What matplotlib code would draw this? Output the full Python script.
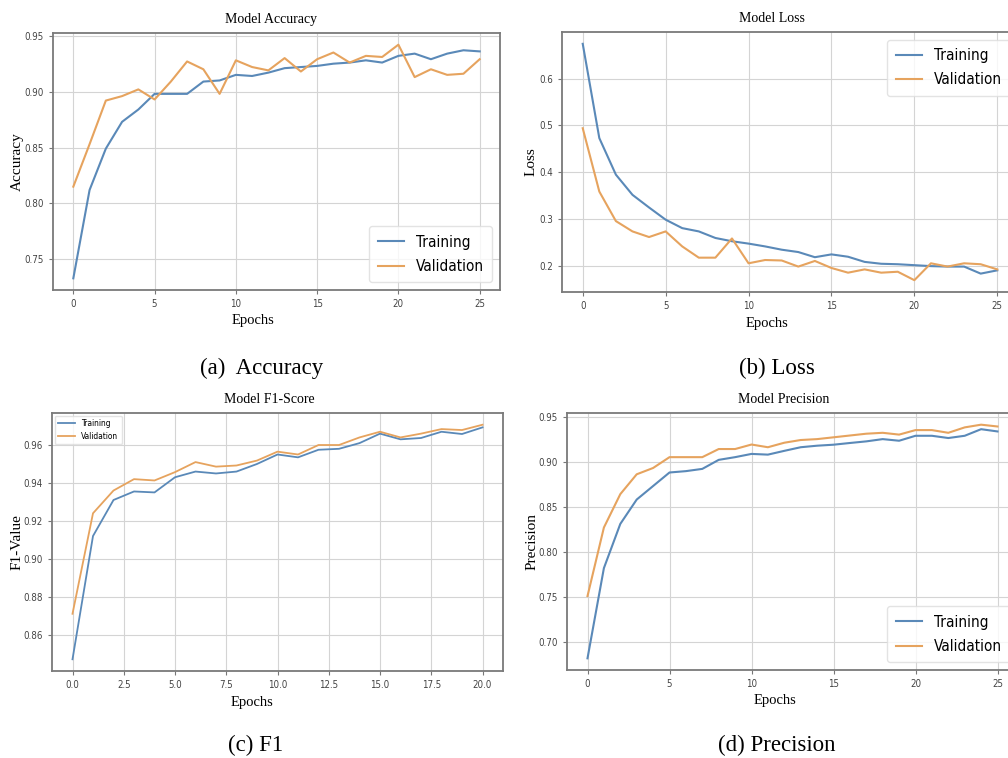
import matplotlib
matplotlib.use("Agg")
import matplotlib.pyplot as plt

W, H = 1008, 758
SERIF = ["Liberation Serif", "DejaVu Serif"]
SANS = ["DejaVu Sans"]
BLUE = "#5a89b8"
ORANGE = "#e6a35e"

epochs_25 = list(range(26))
epochs_20 = list(range(21))

acc_train = [0.733, 0.812, 0.849, 0.873, 0.884, 0.898, 0.898, 0.898, 0.909, 0.910,
             0.915, 0.914, 0.917, 0.921, 0.922, 0.923, 0.925, 0.926, 0.928, 0.926,
             0.932, 0.934, 0.929, 0.934, 0.937, 0.936]
acc_val = [0.815, 0.853, 0.892, 0.896, 0.902, 0.893, 0.909, 0.927, 0.920, 0.898,
           0.928, 0.922, 0.919, 0.930, 0.918, 0.929, 0.935, 0.926, 0.932, 0.931,
           0.942, 0.913, 0.920, 0.915, 0.916, 0.929]

loss_train = [0.674, 0.473, 0.395, 0.352, 0.325, 0.299, 0.281, 0.274, 0.260, 0.253,
              0.248, 0.242, 0.235, 0.230, 0.219, 0.225, 0.220, 0.209, 0.205, 0.204,
              0.202, 0.200, 0.199, 0.199, 0.184, 0.191]
loss_val = [0.494, 0.359, 0.296, 0.274, 0.262, 0.274, 0.242, 0.218, 0.218, 0.259,
            0.206, 0.213, 0.212, 0.199, 0.211, 0.196, 0.186, 0.193, 0.186, 0.188,
            0.170, 0.206, 0.199, 0.206, 0.204, 0.193]

f1_train = [0.847, 0.912, 0.931, 0.9355, 0.935, 0.943, 0.946, 0.945, 0.946, 0.950,
            0.955, 0.9535, 0.9575, 0.958, 0.961, 0.966, 0.963, 0.9637, 0.967, 0.9658,
            0.9693]
f1_val = [0.871, 0.924, 0.936, 0.942, 0.9413, 0.9457, 0.951, 0.9486, 0.9492, 0.9518,
          0.9565, 0.955, 0.960, 0.960, 0.964, 0.967, 0.964, 0.966, 0.9684, 0.9679,
          0.9707]

prec_train = [0.682, 0.782, 0.831, 0.858, 0.873, 0.888, 0.8895, 0.892, 0.902, 0.905,
              0.9086, 0.9078, 0.912, 0.916, 0.9177, 0.9188, 0.9207, 0.9225, 0.925, 0.9232,
              0.9287, 0.9287, 0.9262, 0.9287, 0.936, 0.9335]
prec_val = [0.751, 0.827, 0.864, 0.886, 0.893, 0.905, 0.905, 0.905, 0.914, 0.914,
            0.919, 0.916, 0.921, 0.924, 0.925, 0.927, 0.929, 0.931, 0.932, 0.930,
            0.935, 0.935, 0.932, 0.938, 0.941, 0.939]


def px_axes(fig, left, top, right, bottom):
    """Add axes from pixel box (y measured from the top)."""
    return fig.add_axes([left / W, 1 - bottom / H, (right - left) / W, (bottom - top) / H])


def style(ax, title, title_x, ylabel, ylab_x, xlab_x, xticks, xtick_fmt="{:g}"):
    ax.set_facecolor("white")
    ax.grid(True, color="#d4d4d4", linewidth=0.8)
    ax.set_axisbelow(True)
    for sp in ax.spines.values():
        sp.set_color("#7a7a7a")
        sp.set_linewidth(1.3)
    ax.tick_params(colors="#777777", labelcolor="#444444", length=3, width=0.8)
    ax.set_xticks(xticks)
    ax.set_xticklabels([xtick_fmt.format(t) for t in xticks])
    for lab in ax.get_xticklabels() + ax.get_yticklabels():
        lab.set_family(SANS)
        lab.set_stretch("condensed")
        lab.set_fontsize(7)
    ax.set_title(title, family=SERIF, fontsize=10, x=title_x, pad=7)
    ax.set_ylabel(ylabel, family=SERIF, fontsize=11, va="center")
    ax.yaxis.set_label_coords(ylab_x, 0.5)
    ax.set_xlabel("Epochs", family=SERIF, fontsize=10.5, va="top")
    ax.xaxis.set_label_coords(xlab_x, -0.095)


BIG_LEG = {"family": SANS, "size": 11, "stretch": "condensed"}
LEG_KW = dict(edgecolor="#dddddd", handlelength=1.7, borderaxespad=0.5,
              labelspacing=0.6, borderpad=0.55)

fig = plt.figure(figsize=(W / 100, H / 100), dpi=100)

# (a) accuracy
ax = px_axes(fig, 53, 33, 500, 290)
ax.plot(epochs_25, acc_train, color=BLUE, lw=1.5, label="Training")
ax.plot(epochs_25, acc_val, color=ORANGE, lw=1.5, label="Validation")
ax.set_yticks([0.75, 0.80, 0.85, 0.90, 0.95])
ax.set_yticklabels(["0.75", "0.80", "0.85", "0.90", "0.95"])
style(ax, "Model Accuracy", 0.488, "Accuracy", -0.08, 0.447, [0, 5, 10, 15, 20, 25])
ax.legend(loc="lower right", prop=BIG_LEG, **LEG_KW)

# (b) loss
ax = px_axes(fig, 562, 32, 1018, 292)
ax.plot(epochs_25, loss_train, color=BLUE, lw=1.5, label="Training")
ax.plot(epochs_25, loss_val, color=ORANGE, lw=1.5, label="Validation")
ax.set_yticks([0.2, 0.3, 0.4, 0.5, 0.6])
ax.set_yticklabels(["0.2", "0.3", "0.4", "0.5", "0.6"])
style(ax, "Model Loss", 0.46, "Loss", -0.068, 0.45, [0, 5, 10, 15, 20, 25])
ax.legend(loc="upper right", prop=BIG_LEG, **LEG_KW)

# (c) F1
ax = px_axes(fig, 52, 413, 503, 671)
ax.plot(epochs_20, f1_train, color=BLUE, lw=1.3, label="Training")
ax.plot(epochs_20, f1_val, color=ORANGE, lw=1.3, label="Validation")
ax.set_yticks([0.86, 0.88, 0.90, 0.92, 0.94, 0.96])
ax.set_yticklabels(["0.86", "0.88", "0.90", "0.92", "0.94", "0.96"])
style(ax, "Model F1-Score", 0.481, "F1-Value", -0.078, 0.443,
      [0, 2.5, 5, 7.5, 10, 12.5, 15, 17.5, 20], "{:.1f}")
ax.legend(loc="upper left", prop={"family": SANS, "size": 6, "stretch": "condensed"},
          edgecolor="#dddddd", borderaxespad=0.3)

# (d) precision
ax = px_axes(fig, 567, 413, 1018, 670)
ax.plot(epochs_25, prec_train, color=BLUE, lw=1.5, label="Training")
ax.plot(epochs_25, prec_val, color=ORANGE, lw=1.5, label="Validation")
ax.set_yticks([0.70, 0.75, 0.80, 0.85, 0.90, 0.95])
ax.set_yticklabels(["0.70", "0.75", "0.80", "0.85", "0.90", "0.95"])
style(ax, "Model Precision", 0.481, "Precision", -0.078, 0.461, [0, 5, 10, 15, 20, 25])
ax.legend(loc="lower right", prop=BIG_LEG, **LEG_KW)

# panel captions
for x, y, txt in [(262, 368, "(a)  Accuracy"), (777, 368, "(b) Loss"),
                  (256, 745, "(c) F1"), (777, 745, "(d) Precision")]:
    fig.text(x / W, 1 - y / H, txt, family=SERIF, fontsize=16.5, ha="center", va="center")

fig.savefig("out.png", dpi=100)
